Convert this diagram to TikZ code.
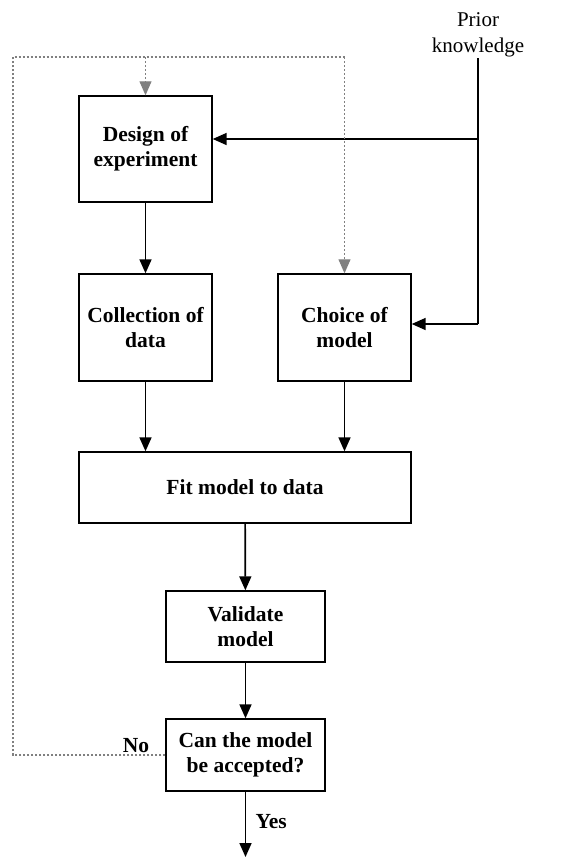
\documentclass[tikz,border=0pt]{standalone}
\usepackage{fontspec}
\setmainfont{Liberation Serif}
\usetikzlibrary{arrows.meta}
\usetikzlibrary{positioning}

\begin{document}
\begin{tikzpicture}[x=1pt, y=-1pt,
    box/.style={draw, line width=1.4pt, align=center, inner sep=0pt,
      font=\fontsize{21.5}{25}\selectfont\bfseries},
    flow/.style={line width=1.7pt, -{Triangle[length=14pt,width=12pt]}},
    back/.style={gray, dash pattern=on 2pt off 2pt, line width=1.1pt},
    backarrow/.style={back, -{Triangle[length=14pt,width=12pt]}}]

      \useasboundingbox (0,0) rectangle (560,857);

      % boxes
      \node[box, minimum width=133pt, minimum height=106pt] (design) at (145.5,149) {Design of\\experiment};
      \node[box, minimum width=133pt, minimum height=107pt] (collect) at (145.5,327.5) {Collection of\\data};
      \node[box, minimum width=133pt, minimum height=107pt] (choice) at (344.5,327.5) {Choice of\\model};
      \node[box, minimum width=332pt, minimum height=71pt] (fit) at (245,487.5) {Fit model to data};
      \node[box, minimum width=159pt, minimum height=71pt] (valid) at (245.5,626.5) {Validate\\model};
      \node[box, minimum width=159pt, minimum height=72pt] (accept) at (245.5,755) {Can the model\\be accepted?};

      % prior knowledge
      \coordinate (prior) at (478,58);
      \coordinate (priorup) at (478,139);
      \coordinate (priorlow) at (478,324);
      \node[above=0pt of prior, align=center, inner sep=1pt, font=\fontsize{21}{26}\selectfont] (priortext) {Prior\\knowledge};
      \draw[line width=1.7pt] (prior) -- (priorlow);
      \draw[flow] (priorup) -- (priorup -| design.east);
      \draw[flow] (priorlow) -- (priorlow -| choice.east);

      % main flow
      \draw[flow] (design) -- (collect);
      \draw[flow] (collect.south) -- (collect.south |- fit.north);
      \draw[flow] (choice.south) -- (choice.south |- fit.north);
      \draw[flow] (fit) -- (valid);
      \draw[flow] (valid) -- (accept);
      \coordinate (done) at (245.5,857);
      \draw[flow] (accept) -- (done) node[pos=0.45, right=6pt, font=\fontsize{21.5}{25}\selectfont\bfseries] (yes) {Yes};

      % loop back
      \coordinate (loopl) at (13,755);
      \coordinate (looptl) at (13,57);
      \coordinate (looptr) at (344.5,57);
      \draw[back] (accept.west) -- (loopl) -- (looptl) -- (looptr);
      \draw[backarrow] (looptr) -- (choice.north);
      \draw[backarrow] (looptl -| design.north) -- (design.north);
      \node[above left=2pt and 16pt of accept.west, font=\fontsize{21.5}{25}\selectfont\bfseries, inner sep=0pt] (no) {No};

    \end{tikzpicture}
\end{document}
